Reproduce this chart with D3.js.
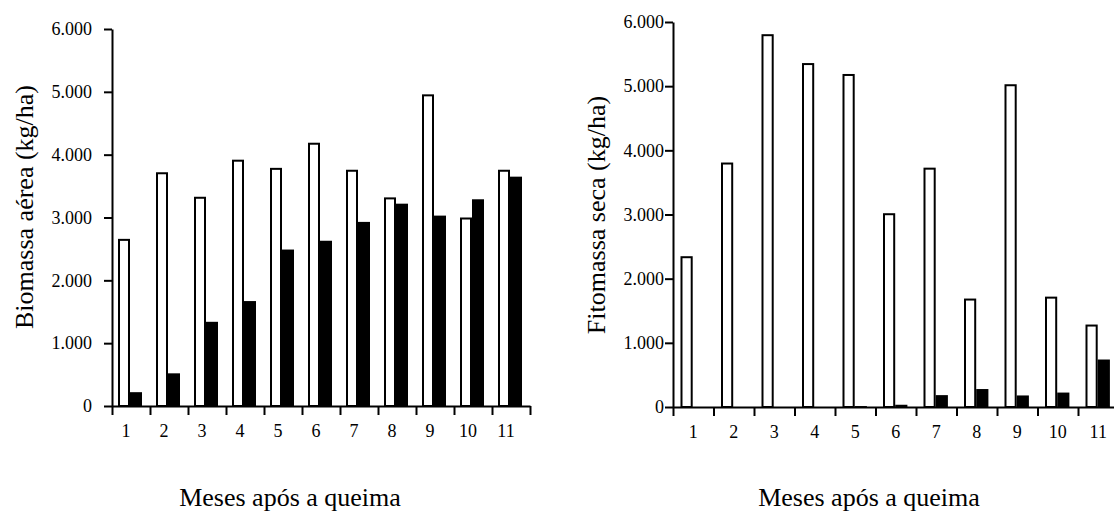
<!DOCTYPE html>
<html>
<head>
<meta charset="utf-8">
<script src="https://cdn.jsdelivr.net/npm/d3@7"></script>
<style>
  body { margin: 0; background: #fff; }
  svg { display: block; }
</style>
</head>
<body>
<div id="chart"></div>
<script>
const months = ['1', '2', '3', '4', '5', '6', '7', '8', '9', '10', '11']
const series = ['aberta', 'fechada']
const yTicks = [0, 1000, 2000, 3000, 4000, 5000, 6000]

// grafico da esquerda
const biomassaAberta = [2660, 3720, 3330, 3920, 3790, 4190, 3760, 3320, 4960, 3000, 3760]
const biomassaFechada = [220, 520, 1340, 1670, 2490, 2630, 2930, 3220, 3030, 3290, 3650]

// grafico da direita
const fitomassaAberta = [2350, 3810, 5810, 5360, 5190, 3020, 3730, 1690, 5030, 1720, 1285]
const fitomassaFechada = [0, 0, 0, 0, 15, 35, 185, 280, 180, 225, 740]

const width = 1114, height = 513
const serif = '"Liberation Serif", "DejaVu Serif", Times, serif'
const ptBR = d3.formatLocale({decimal: ',', thousands: '.', grouping: [3], currency: ['', '']})
const fmt = ptBR.format(',')

const svg = d3.select('#chart').append('svg')
  .attr('width', width)
  .attr('height', height)
  .style('font-family', serif)

function barChart(opts) {
  const data = months.map((m, i) => ({month: m, aberta: opts.open[i], fechada: opts.closed[i]}))
  const g = svg.append('g')
    .attr('transform', `translate(${opts.left}, ${opts.top})`)

  const x = d3.scaleBand()
    .domain(months)
    .range([0, opts.band * months.length])
  const xEdge = d3.scaleLinear()
    .domain([0, months.length])
    .range([0, opts.band * months.length])
  const x1 = d3.scaleBand()
    .domain(series)
    .range([opts.offset, opts.offset + 2 * opts.barW])
  const y = d3.scaleLinear()
    .domain([0, 6000])
    .range([opts.plotH, 0])

  // eixo y
  g.append('g')
    .call(d3.axisLeft(y).tickValues(yTicks).tickFormat(fmt).tickSize(8).tickSizeOuter(0).tickPadding(opts.yPad))
    .call(a => a.selectAll('text').style('font-family', serif).style('font-size', '18px').attr('fill', '#000'))
    .call(a => a.selectAll('line, path').attr('stroke', '#000').attr('stroke-width', 2))

  // eixo x (ticks nas divisas dos meses)
  g.append('g')
    .attr('transform', `translate(0, ${opts.plotH})`)
    .call(d3.axisBottom(xEdge).tickValues(d3.range(0, months.length + 1)).tickFormat('').tickSize(9).tickSizeOuter(0))
    .call(a => a.selectAll('line, path').attr('stroke', '#000').attr('stroke-width', 2))

  g.append('g')
    .attr('transform', `translate(${opts.labelShift}, ${opts.plotH})`)
    .call(d3.axisBottom(x).tickSize(0).tickPadding(18))
    .call(a => a.select('.domain').remove())
    .call(a => a.selectAll('text').style('font-family', serif).style('font-size', '18px').attr('fill', '#000'))

  // barras
  const groups = g.selectAll('.mes')
    .data(data)
    .enter().append('g')
    .attr('class', 'mes')
    .attr('transform', d => `translate(${x(d.month)}, 0)`)

  groups.append('rect')
    .attr('x', x1('aberta') + 1)
    .attr('y', d => y(d.aberta) + 1)
    .attr('width', x1.bandwidth() - 2)
    .attr('height', d => y(0) - y(d.aberta) - 1)
    .attr('fill', '#fff')
    .attr('stroke', '#000')
    .attr('stroke-width', 2)

  groups.append('rect')
    .attr('x', x1('fechada'))
    .attr('y', d => y(d.fechada))
    .attr('width', x1.bandwidth())
    .attr('height', d => y(0) - y(d.fechada))
    .attr('fill', '#000')

  // titulos
  svg.append('text')
    .attr('transform', `translate(${opts.yTitleX}, ${opts.yTitleY}) rotate(-90)`)
    .style('font-family', serif)
    .style('text-anchor', 'middle')
    .style('font-size', '26px')
    .text(opts.yTitle)

  svg.append('text')
    .attr('x', opts.xTitleX)
    .attr('y', 506)
    .style('font-family', serif)
    .style('text-anchor', 'middle')
    .style('font-size', '26px')
    .text('Meses após a queima')
}

barChart({
  open: biomassaAberta, closed: biomassaFechada,
  left: 112, top: 29, plotH: 377, band: 38, offset: 6, barW: 12,
  yPad: 12, labelShift: -5,
  yTitle: 'Biomassa aérea (kg/ha)', yTitleX: 33, yTitleY: 207, xTitleX: 290
})

barChart({
  open: fitomassaAberta, closed: fitomassaFechada,
  left: 673, top: 22, plotH: 385, band: 40.5, offset: 7.5, barW: 12.2,
  yPad: 1, labelShift: 0,
  yTitle: 'Fitomassa seca (kg/ha)', yTitleX: 605, yTitleY: 215, xTitleX: 869
})
</script>
</body>
</html>
